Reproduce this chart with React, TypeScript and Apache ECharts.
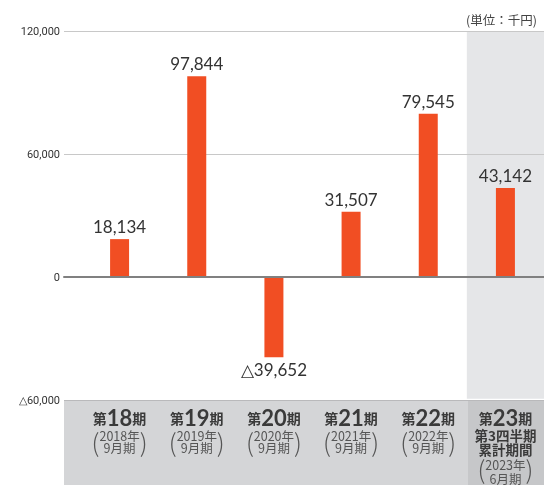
import React, { useEffect, useRef } from "react";
import * as echarts from "echarts";

// ---- data ----
const periods = ["18", "19", "20", "21", "22", "23"];
const categories = periods.map((p) => `第${p}期`);
const fiscalYears = ["2018年", "2019年", "2020年", "2021年", "2022年", "2023年"];
const closingMonths = ["9月期", "9月期", "9月期", "9月期", "9月期", "6月期"];
const extraLines = [[], [], [], [], [], ["第3四半期", "累計期間"]];
const profits = [18134, 97844, -39652, 31507, 79545, 43142];
const yMin = -60000;
const yMax = 120000;
const yStep = 60000;
const unitLabel = "(単位：千円)";

const fmt = (v: number) =>
  (v < 0 ? "△" : "") + Math.abs(v).toLocaleString("en-US");

const JP = '"Noto Sans CJK JP", "Noto Sans", sans-serif';
const NUM = 'Lato, "Noto Sans", sans-serif';

export default function App() {
  const ref = useRef<HTMLDivElement>(null);
  useEffect(() => {
    if (!ref.current) return;
    const chart = echarts.init(ref.current, undefined, { renderer: "svg" });
    const highlightIdx = categories.length - 1;
    chart.setOption({
      animation: false,
      title: {
        text: unitLabel,
        right: 2,
        top: 8,
        textStyle: { fontSize: 12.5, fontWeight: "normal", color: "#444", fontFamily: JP },
      },
      graphic: [
        {
          type: "rect",
          z: -10,
          shape: { x: 64, y: 400, width: 480, height: 85 },
          style: { fill: "#d4d5d7" },
        },
        {
          type: "rect",
          z: -9,
          shape: { x: 468, y: 400, width: 76, height: 85 },
          style: { fill: "#c6c7c9" },
        },
      ],
      grid: [
        { left: 64, right: 0, top: 31, height: 369 },
        { left: 81, width: 465, top: 31, height: 369 },
      ],
      xAxis: [
        {
          gridIndex: 0,
          type: "value",
          min: 0,
          max: 1,
          z: 3,
          axisLine: { show: true, onZero: true, lineStyle: { color: "#808080", width: 2 } },
          axisTick: { show: false },
          axisLabel: { show: false },
          splitLine: { show: false },
        },
        {
          gridIndex: 1,
          type: "category",
          data: categories,
          z: 0,
          axisLine: { show: false, onZero: false },
          axisTick: { show: false },
          splitArea: {
            show: true,
            areaStyle: {
              color: categories.map((_, i) =>
                i === highlightIdx ? "#e5e6e8" : "rgba(255,255,255,0)"
              ),
            },
          },
          axisLabel: {
            interval: 0,
            margin: 8,
            verticalAlign: "top",
            formatter: (_v: string, i: number) => {
              const last = extraLines[i].length > 0;
              const lines = [`{a|第}{n|${periods[i]}}{a|期}`];
              if (last) {
                lines.push(`{b|${extraLines[i][0]}}`);
                lines.push(`{c|${extraLines[i][1]}}`);
                lines.push(`{p2|(}{y2|${fiscalYears[i]}}{p2|)}`);
                lines.push(`{m2|${closingMonths[i]}}`);
              } else {
                lines.push(`{p|(}{y|${fiscalYears[i]}}{p|)}`);
                lines.push(`{m|${closingMonths[i]}}`);
              }
              return lines.join("\n");
            },
            rich: {
              a: { fontSize: 14, fontWeight: "bold", color: "#3a3a3a", fontFamily: JP, lineHeight: 22 },
              n: { fontSize: 22, fontWeight: "bold", color: "#3a3a3a", fontFamily: NUM, lineHeight: 22 },
              b: { fontSize: 13.5, fontWeight: "bold", color: "#3a3a3a", fontFamily: JP, lineHeight: 13 },
              c: { fontSize: 13.5, fontWeight: "bold", color: "#3a3a3a", fontFamily: JP, lineHeight: 14 },
              p: { fontSize: 25, color: "#555", fontFamily: JP, lineHeight: 13, verticalAlign: "top", fontWeight: 300 },
              y: { fontSize: 12.5, color: "#555", fontFamily: JP, lineHeight: 13 },
              m: { fontSize: 12.5, color: "#555", fontFamily: JP, lineHeight: 11 },
              p2: { fontSize: 25, color: "#555", fontFamily: JP, lineHeight: 17, verticalAlign: "top", fontWeight: 300 },
              y2: { fontSize: 12.5, color: "#555", fontFamily: JP, lineHeight: 17 },
              m2: { fontSize: 12.5, color: "#555", fontFamily: JP, lineHeight: 12 },
            },
          },
        },
      ],
      yAxis: [
        {
          gridIndex: 0,
          type: "value",
          min: yMin,
          max: yMax,
          interval: yStep,
          z: 1,
          axisLine: { show: false },
          axisTick: { show: false },
          axisLabel: {
            margin: 4,
            fontSize: 11,
            color: "#333",
            fontFamily: 'Roboto, "Noto Sans", sans-serif',
            formatter: (v: number) => fmt(v),
          },
          splitLine: {
            show: true,
            lineStyle: { color: ["#b9b9bb", "#808080", "#c8c8c8", "#c8c8c8"], width: 1 },
          },
        },
        {
          gridIndex: 1,
          type: "value",
          min: yMin,
          max: yMax,
          interval: yStep,
          show: false,
          splitLine: { show: false },
        },
      ],
      series: [
        {
          type: "bar",
          xAxisIndex: 1,
          yAxisIndex: 1,
          barWidth: 19,
          itemStyle: { color: "#f14e23" },
          data: profits.map((v) => ({
            value: v,
            label: { position: v < 0 ? "bottom" : "top" },
          })),
          label: {
            show: true,
            distance: 4,
            fontSize: 17,
            color: "#333",
            fontFamily: NUM,
            formatter: (p: any) => fmt(p.value),
          },
        },
      ],
    });
    return () => chart.dispose();
  }, []);
  return (
    <div
      ref={ref}
      style={{ position: "fixed", left: 0, top: 0, width: 544, height: 485 }}
    />
  );
}
